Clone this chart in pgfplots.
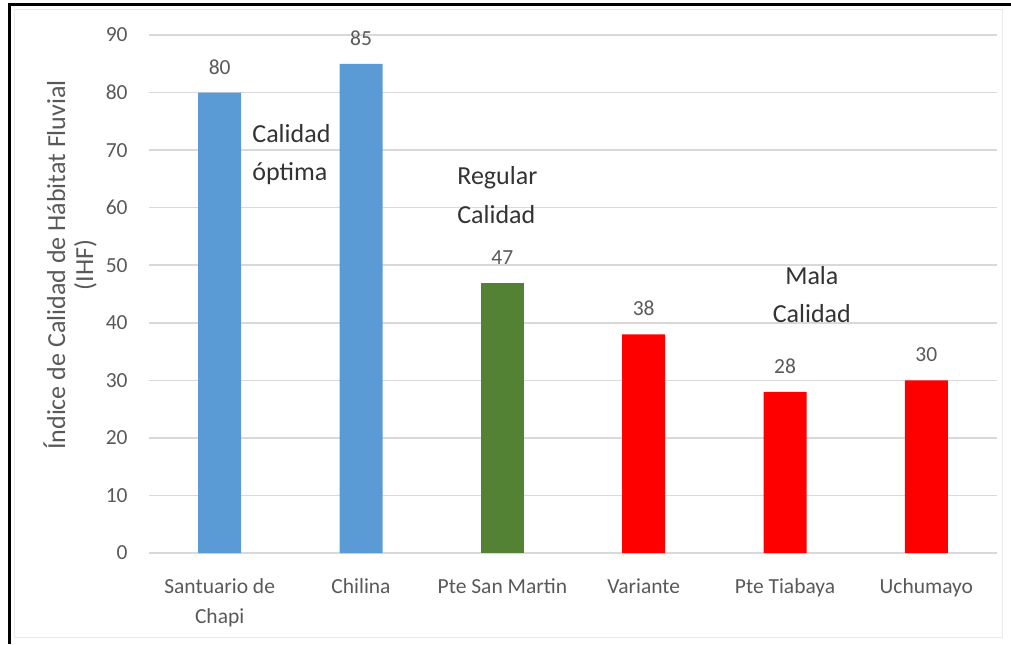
\documentclass[border=0pt]{standalone}
\usepackage{fontspec}
\setmainfont{Carlito}
\usepackage{pgfplots}
\pgfplotsset{compat=1.18}
\definecolor{barblue}{HTML}{5B9BD5}
\definecolor{bargreen}{HTML}{548235}
\definecolor{barred}{HTML}{FF0000}
\definecolor{gridgray}{HTML}{D9D9D9}
\definecolor{txtgray}{HTML}{595959}
\definecolor{annot}{HTML}{333333}

\begin{document}
\begin{tikzpicture}
\useasboundingbox (0,0) rectangle (505.5pt,322pt);
% faint chart-area border
\draw[color=black!8, line width=0.5pt] (7pt,3.5pt) rectangle (501pt,317pt);
\begin{axis}[
  at={(74.5pt,45.5pt)}, anchor=south west,
  scale only axis, width=424pt, height=259pt,
  xmin=-0.5, xmax=5.5, ymin=0, ymax=90,
  ytick={0,10,...,90},
  xtick={0,...,5},
  xticklabels={Santuario de\\Chapi, Chilina, Pte San Martin, Variante, Pte Tiabaya, Uchumayo},
  ymajorgrids, grid style={gridgray, line width=0.75pt},
  axis line style={draw=none},
  major tick length=0pt,
  tick label style={font=\fontsize{10.75}{15}\selectfont, text=txtgray},
  xticklabel style={align=center, anchor=north, inner sep=0pt, yshift=-12.5pt},
  yticklabel style={anchor=east, inner sep=0pt, xshift=-10.5pt},
  /pgf/number format/assume math mode=true,
  nodes near coords,
  every node near coord/.append style={font=\fontsize{10.75}{13}\selectfont, text=txtgray, anchor=south, inner sep=0pt, yshift=9pt},
  clip=false,
]
% Calidad óptima
\addplot[ybar, bar width=21.5pt, bar shift=0pt, fill=barblue, draw=none] coordinates {(0,80) (1,85)};
% Regular calidad
\addplot[ybar, bar width=21.5pt, bar shift=0pt, fill=bargreen, draw=none] coordinates {(2,47)};
% Mala calidad
\addplot[ybar, bar width=21.5pt, bar shift=0pt, fill=barred, draw=none] coordinates {(3,38) (4,28) (5,30)};

\begin{scope}[every node/.style={font=\fontsize{13}{14}\selectfont, text=annot, inner sep=0pt}]
\node[anchor=base west] at (axis cs:0.229,71.4) {Calidad};
\node[anchor=base west] at (axis cs:0.229,64.8) {óptima};
\node[anchor=base west] at (axis cs:1.679,64.1) {Regular};
\node[anchor=base west] at (axis cs:1.679,57.3) {Calidad};
\node[anchor=base] at (axis cs:4.19,46.6) {Mala};
\node[anchor=base] at (axis cs:4.19,40.1) {Calidad};
\end{scope}
\end{axis}
% y axis title
\node[rotate=90, align=center, font=\fontsize{13}{14}\selectfont, text=txtgray] at (35pt,189.5pt) {Índice de Calidad de Hábitat Fluvial\\(IHF)};
% outer frame (top and left)
\draw[line width=1.5pt, black] (4.5pt,0pt) -- (4.5pt,319.5pt) -- (505.5pt,319.5pt);
\end{tikzpicture}
\end{document}
